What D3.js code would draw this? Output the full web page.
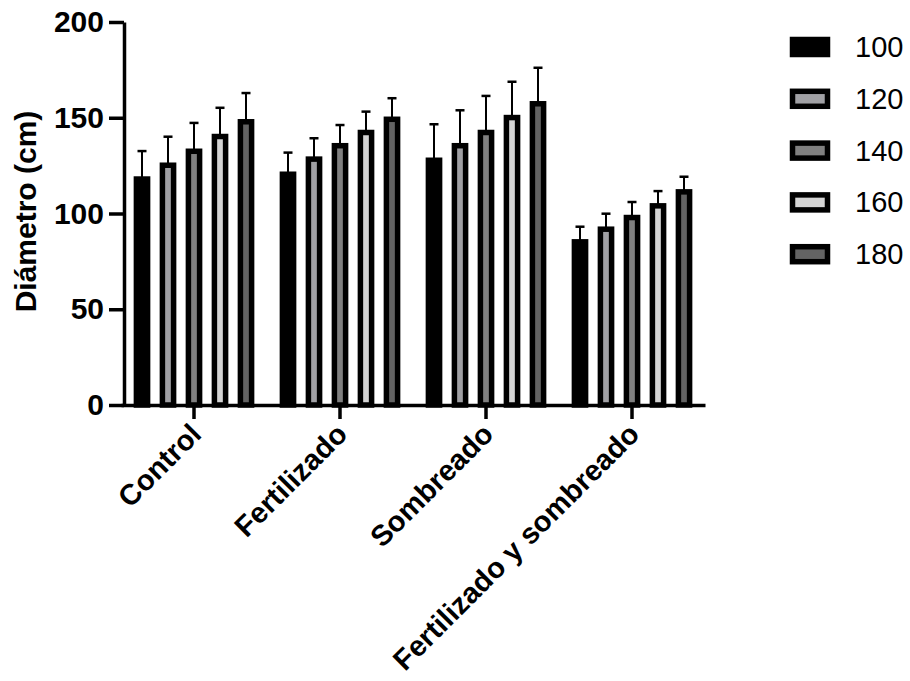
<!DOCTYPE html>
<html>
<head>
<meta charset="utf-8">
<script src="https://cdn.jsdelivr.net/npm/d3@7"></script>
<style>
  body { margin: 0; background: #fff; }
  svg { font-family: "Liberation Sans", Arial, sans-serif; }
</style>
</head>
<body>
<svg id="chart" width="910" height="681"></svg>
<script>
const groups = ["Control", "Fertilizado", "Sombreado", "Fertilizado y sombreado"];
const series = ["100", "120", "140", "160", "180"];
const colors = ["#000000", "#a0a0a4", "#808080", "#d4d4d4", "#636363"];

// mean per series (100..180) in each group
const control = [118, 125.2, 132.5, 140.2, 147.9];
const fertilizado = [120.5, 128.4, 135.4, 142.3, 149.2];
const sombreado = [127.8, 135.4, 142.3, 150.1, 157.3];
const fertSombreado = [85.2, 91.8, 97.9, 104, 111.3];

// error (upper bar only)
const controlErr = [14.6, 14.9, 14.8, 15, 15];
const fertilizadoErr = [11.3, 10.9, 10.8, 10.9, 11];
const sombreadoErr = [18.8, 18.5, 19.1, 18.7, 18.8];
const fertSombreadoErr = [7.9, 8.1, 8.1, 7.7, 7.9];

const yTicks = [0, 50, 100, 150, 200];

const means = [control, fertilizado, sombreado, fertSombreado];
const errs = [controlErr, fertilizadoErr, sombreadoErr, fertSombreadoErr];

const data = [];
groups.forEach((g, gi) => {
  series.forEach((s, si) => {
    data.push({ group: g, series: s, value: means[gi][si], err: errs[gi][si], color: colors[si] });
  });
});

const svg = d3.select("#chart");

const x0 = d3.scaleBand().domain(groups).range([121, 705]);
const x1 = d3.scaleBand().domain(series).range([-65, 65]);
const y = d3.scaleLinear().domain([0, 200]).range([405, 22]);

const barW = 11.2;
const cx = d => x0(d.group) + x0.bandwidth() / 2 + x1(d.series) + x1.bandwidth() / 2;

// error bars
const eb = svg.append("g");
eb.selectAll("line.v")
  .data(data)
  .enter()
  .append("line")
  .attr("x1", cx).attr("x2", cx)
  .attr("y1", d => y(d.value))
  .attr("y2", d => y(d.value + d.err))
  .attr("stroke", "#000")
  .attr("stroke-width", 2);
eb.selectAll("line.cap")
  .data(data)
  .enter()
  .append("line")
  .attr("x1", d => cx(d) - 4.5).attr("x2", d => cx(d) + 4.5)
  .attr("y1", d => y(d.value + d.err))
  .attr("y2", d => y(d.value + d.err))
  .attr("stroke", "#000")
  .attr("stroke-width", 2.5);

// bars
svg.append("g").selectAll("rect")
  .data(data)
  .enter()
  .append("rect")
  .attr("x", d => cx(d) - barW / 2)
  .attr("y", d => y(d.value))
  .attr("width", barW)
  .attr("height", d => y(0) - y(d.value))
  .attr("fill", d => d.color)
  .attr("stroke", "#000")
  .attr("stroke-width", 5.5);

// y axis
const yAxis = svg.append("g")
  .attr("transform", "translate(124,0)")
  .call(d3.axisLeft(y).tickValues(yTicks).tickSize(15).tickSizeOuter(0).tickPadding(5));
yAxis.select(".domain").attr("stroke-width", 3.5);
yAxis.selectAll(".tick line").attr("stroke-width", 3.5);
yAxis.selectAll(".tick text")
  .style("font-size", "30px")
  .style("font-weight", "bold")
  .attr("fill", "#000");

// x axis
const xAxis = svg.append("g")
  .attr("transform", "translate(0,405)")
  .call(d3.axisBottom(x0).tickSize(14).tickSizeOuter(0));
xAxis.select(".domain").attr("stroke-width", 3.5);
xAxis.selectAll(".tick line").attr("stroke-width", 3.5);
xAxis.selectAll(".tick text")
  .style("font-size", "29px")
  .style("font-weight", "bold")
  .attr("fill", "#000")
  .attr("text-anchor", "end")
  .attr("y", 0)
  .attr("dy", "0")
  .attr("transform", "translate(9,31) rotate(-45)");

// y label
svg.append("text")
  .attr("transform", "translate(36,211.5) rotate(-90)")
  .attr("text-anchor", "middle")
  .style("font-size", "30px")
  .style("font-weight", "bold")
  .text("Diámetro (cm)");

// legend
const lg = svg.append("g").selectAll("g")
  .data(series)
  .enter()
  .append("g")
  .attr("transform", (d, i) => "translate(0," + (47 + i * 51.8) + ")");
lg.append("rect")
  .attr("x", 792.5).attr("y", -7.5)
  .attr("width", 35).attr("height", 15)
  .attr("fill", (d, i) => colors[i])
  .attr("stroke", "#000")
  .attr("stroke-width", 5.5);
lg.append("text")
  .attr("x", 855).attr("y", 10)
  .style("font-size", "29px")
  .text(d => d);
</script>
</body>
</html>
